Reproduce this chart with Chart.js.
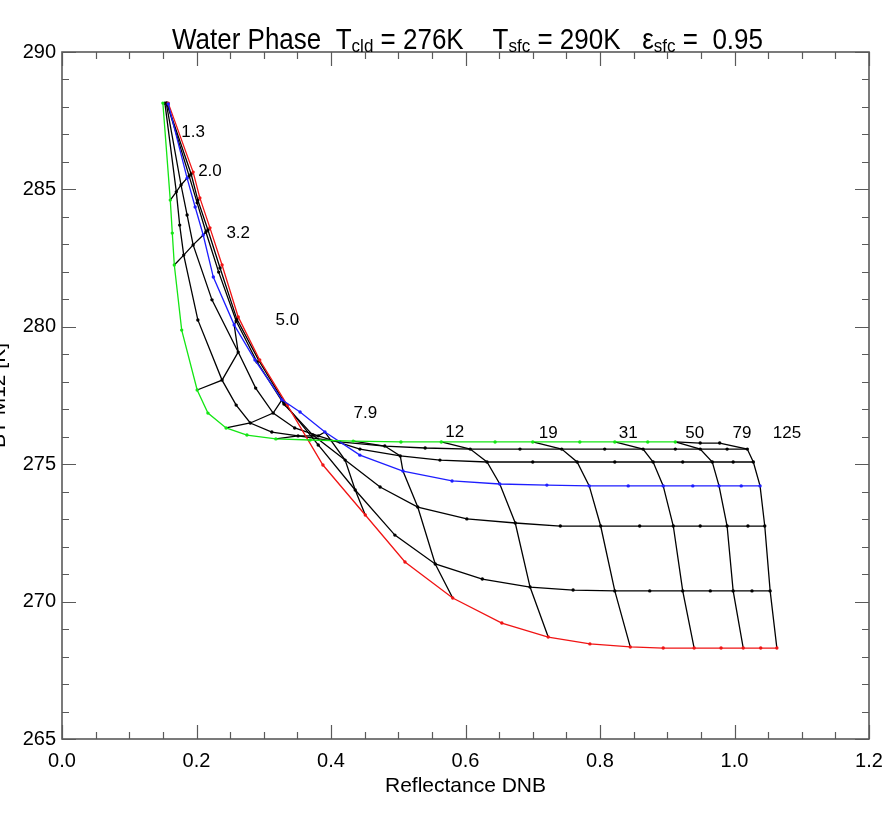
<!DOCTYPE html>
<html><head><meta charset="utf-8">
<script src="https://cdn.jsdelivr.net/npm/chart.js@4.4.1/dist/chart.umd.min.js"></script>
<style>html,body{margin:0;padding:0;background:#fff;}#wrap{width:886px;height:816px;}</style>
</head><body><div id="wrap"><canvas id="c" width="886" height="816"></canvas></div>
<script>
// optical depth of every point on each effective-radius curve
const TAU = [0, 1.26, 1.58, 2.00, 2.51, 3.16, 3.98, 5.01, 6.31, 7.94, 10.0, 12.6, 15.8, 20.0, 25.1, 31.6, 39.8, 50.1, 63.1, 79.4, 100, 126];

// effective-radius curves (Reflectance DNB, BT M12)
const G_X = [0.150, 0.161, 0.164, 0.167, 0.178, 0.201, 0.217, 0.244, 0.275, 0.318, 0.369, 0.433, 0.504, 0.564, 0.644, 0.700, 0.770, 0.822, 0.871, 0.912, 0.949, 0.978];
const G_Y = [288.14, 284.61, 283.41, 282.25, 279.88, 277.70, 276.86, 276.32, 276.06, 275.92, 275.88, 275.84, 275.81, 275.81, 275.81, 275.81, 275.81, 275.81, 275.81, 275.81, 275.77, 275.77];
const K1_X = [0.153, 0.170, 0.175, 0.181, 0.202, 0.238, 0.259, 0.280, 0.312, 0.351, 0.413, 0.480, 0.540, 0.607, 0.681, 0.743, 0.807, 0.864, 0.912, 0.949, 0.989, 1.019];
const K1_Y = [288.14, 284.91, 283.70, 282.61, 280.25, 278.06, 277.15, 276.50, 276.17, 276.03, 275.81, 275.66, 275.59, 275.55, 275.55, 275.55, 275.55, 275.55, 275.55, 275.55, 275.55, 275.55];
const K2_X = [0.155, 0.177, 0.186, 0.195, 0.223, 0.262, 0.288, 0.314, 0.346, 0.381, 0.443, 0.503, 0.562, 0.632, 0.700, 0.766, 0.822, 0.879, 0.923, 0.967, 0.998, 1.028];
const K2_Y = [288.14, 285.16, 284.07, 282.98, 280.98, 279.08, 277.77, 276.86, 276.32, 276.03, 275.55, 275.30, 275.15, 275.08, 275.08, 275.08, 275.08, 275.08, 275.08, 275.08, 275.08, 275.08];
const B_X = [0.158, 0.186, 0.198, 0.210, 0.225, 0.256, 0.287, 0.327, 0.354, 0.391, 0.443, 0.507, 0.580, 0.651, 0.721, 0.784, 0.842, 0.894, 0.938, 0.977, 1.010, 1.038];
const B_Y = [288.11, 285.41, 284.36, 283.34, 281.81, 280.07, 278.79, 277.34, 276.90, 276.17, 275.33, 274.75, 274.39, 274.28, 274.24, 274.21, 274.21, 274.21, 274.21, 274.21, 274.21, 274.21];
const K3_X = [0.156, 0.189, 0.201, 0.214, 0.233, 0.259, 0.290, 0.330, 0.373, 0.421, 0.473, 0.529, 0.602, 0.674, 0.741, 0.801, 0.859, 0.909, 0.949, 0.989, 1.020, 1.045];
const K3_Y = [288.14, 285.49, 284.51, 283.45, 281.99, 280.21, 278.72, 277.19, 276.06, 275.15, 274.17, 273.44, 273.01, 272.86, 272.75, 272.75, 272.75, 272.75, 272.75, 272.75, 272.75, 272.75];
const K4_X = [0.156, 0.192, 0.202, 0.217, 0.235, 0.260, 0.293, 0.333, 0.381, 0.436, 0.495, 0.555, 0.625, 0.696, 0.760, 0.822, 0.874, 0.923, 0.964, 0.998, 1.026, 1.053];
const K4_Y = [288.14, 285.56, 284.61, 283.52, 282.14, 280.28, 278.76, 277.15, 275.70, 274.06, 272.42, 271.37, 270.82, 270.53, 270.42, 270.39, 270.39, 270.39, 270.39, 270.39, 270.39, 270.39];
const R_X = [0.158, 0.195, 0.205, 0.220, 0.238, 0.262, 0.294, 0.335, 0.388, 0.451, 0.510, 0.581, 0.654, 0.723, 0.785, 0.845, 0.894, 0.940, 0.980, 1.013, 1.039, 1.063];
const R_Y = [288.14, 285.63, 284.69, 283.60, 282.25, 280.36, 278.79, 277.15, 274.97, 273.15, 271.44, 270.13, 269.22, 268.71, 268.46, 268.35, 268.31, 268.31, 268.31, 268.31, 268.31, 268.31];

// constant optical depth lines drawn at these indices, with their labels
const COLUMN_IDX = [1, 3, 5, 7, 9, 11, 13, 15, 17, 19, 21];
const TAU_LABELS = ['1.3', '2.0', '3.2', '5.0', '7.9', '12', '19', '31', '50', '79', '125'];
const TAU_LABEL_X = [0.195, 0.220, 0.262, 0.335, 0.451, 0.584, 0.723, 0.842, 0.941, 1.011, 1.078];
const TAU_LABEL_Y = [287.09, 285.67, 283.41, 280.25, 276.86, 276.17, 276.14, 276.14, 276.14, 276.14, 276.14];
const GREEN_LAST = 19; // green colour stops at this index

const X_TICKS = [0.0, 0.2, 0.4, 0.6, 0.8, 1.0, 1.2];
const Y_TICKS = [265, 270, 275, 280, 285, 290];

const GREEN = '#14e614', BLUE = '#1e1eff', RED = '#f01414', BLACK = '#000000';
const FONT = '"Liberation Sans", Arial, Helvetica, sans-serif';

function pts(X, Y) { return X.map((x, i) => ({x: x, y: Y[i]})); }
const ROWS = [
  {X: G_X, Y: G_Y, color: GREEN},
  {X: K1_X, Y: K1_Y, color: BLACK},
  {X: K2_X, Y: K2_Y, color: BLACK},
  {X: B_X, Y: B_Y, color: BLUE},
  {X: K3_X, Y: K3_Y, color: BLACK},
  {X: K4_X, Y: K4_Y, color: BLACK},
  {X: R_X, Y: R_Y, color: RED}
];

const datasets = [];
ROWS.forEach(r => {
  const isGreen = r.color === GREEN;
  datasets.push({
    data: pts(r.X, r.Y), showLine: true, tension: 0,
    borderColor: r.color, borderWidth: 1.3,
    segment: isGreen ? {borderColor: c => c.p0DataIndex >= GREEN_LAST ? BLACK : GREEN} : undefined,
    pointRadius: 1.7, pointBorderWidth: 0,
    pointBackgroundColor: isGreen ? r.X.map((_, i) => i > GREEN_LAST ? BLACK : GREEN) : r.color,
    order: r.color === BLACK ? 2 : 1
  });
});
COLUMN_IDX.forEach(k => {
  datasets.push({
    data: ROWS.map(r => ({x: r.X[k], y: r.Y[k]})), showLine: true, tension: 0,
    borderColor: BLACK, borderWidth: 1.3, pointRadius: 0, order: 3
  });
});

const frame = {
  id: 'frame',
  afterDatasetsDraw(chart) {
    const {ctx, chartArea: a, scales: {x, y}} = chart;
    ctx.save();
    ctx.strokeStyle = '#5a5a5a';
    ctx.lineWidth = 1.6;
    ctx.strokeRect(a.left, a.top, a.right - a.left, a.bottom - a.top);
    ctx.lineWidth = 1.2;
    ctx.beginPath();
    for (let i = 0; i <= 24; i++) {
      const v = i * 0.05, px = Math.round(x.getPixelForValue(v)) + 0.5, L = (i % 4 === 0) ? 14 : 7;
      ctx.moveTo(px, a.bottom); ctx.lineTo(px, a.bottom - L);
      ctx.moveTo(px, a.top); ctx.lineTo(px, a.top + L);
    }
    for (let v = 265; v <= 290; v++) {
      const py = Math.round(y.getPixelForValue(v)) + 0.5, L = (v % 5 === 0) ? 14 : 7;
      ctx.moveTo(a.left, py); ctx.lineTo(a.left + L, py);
      ctx.moveTo(a.right, py); ctx.lineTo(a.right - L, py);
    }
    ctx.stroke();
    // optical depth labels
    ctx.fillStyle = '#000';
    ctx.font = '17px ' + FONT;
    ctx.textAlign = 'center'; ctx.textBaseline = 'middle';
    TAU_LABELS.forEach((t, i) => ctx.fillText(t, x.getPixelForValue(TAU_LABEL_X[i]), y.getPixelForValue(TAU_LABEL_Y[i])));
    // y axis title (clipped at the left edge as in the original)
    ctx.save();
    ctx.translate(5, (a.top + a.bottom) / 2);
    ctx.rotate(-Math.PI / 2);
    ctx.font = '21px ' + FONT;
    ctx.textBaseline = 'alphabetic';
    ctx.fillText('BT M12 [K]', 0, 0);
    ctx.restore();
    // title with subscripts
    const parts = [
      ['Water Phase  T', 0], ['cld', 1], [' = 276K    T', 0], ['sfc', 1], [' = 290K   \u03b5', 0], ['sfc', 1], [' =  0.95', 0]
    ];
    const big = '29px ' + FONT, small = '19px ' + FONT;
    let w = 0;
    parts.forEach(p => { ctx.font = p[1] ? small : big; w += ctx.measureText(p[0]).width; });
    const target = 591, left = 172, sx = target / w;
    ctx.save();
    ctx.translate(left, 0);
    ctx.scale(sx, 1);
    let cx = 0;
    ctx.textAlign = 'left';
    parts.forEach(p => {
      ctx.font = p[1] ? small : big;
      ctx.fillText(p[0], cx, p[1] ? 47 : 41);
      cx += ctx.measureText(p[0]).width;
    });
    ctx.restore();
    ctx.restore();
  }
};

new Chart(document.getElementById('c'), {
  type: 'scatter',
  data: {datasets},
  options: {
    responsive: false, animation: false, devicePixelRatio: 1,
    layout: {padding: {top: 52, right: 17, left: 0, bottom: 0}},
    plugins: {legend: {display: false}, tooltip: {enabled: false}, title: {display: false}},
    scales: {
      x: {
        type: 'linear', min: 0, max: 1.2,
        afterFit: s => { s.height = 77; s.paddingLeft = 0; s.paddingRight = 0; },
        afterBuildTicks: s => { s.ticks = X_TICKS.map(v => ({value: v})); },
        ticks: {callback: v => Number(v).toFixed(1), font: {size: 20, family: FONT}, color: '#000', padding: 10, maxRotation: 0},
        grid: {display: false, drawTicks: false}, border: {display: false},
        title: {display: true, text: 'Reflectance DNB', font: {size: 21, family: FONT}, color: '#000', padding: {top: 0, bottom: 17}}
      },
      y: {
        type: 'linear', min: 265, max: 290,
        afterFit: s => { s.width = 62; s.paddingTop = 0; s.paddingBottom = 0; },
        afterBuildTicks: s => { s.ticks = Y_TICKS.map(v => ({value: v})); },
        ticks: {font: {size: 20, family: FONT}, color: '#000', padding: 6},
        grid: {display: false, drawTicks: false}, border: {display: false}
      }
    }
  },
  plugins: [frame]
});
</script></body></html>
